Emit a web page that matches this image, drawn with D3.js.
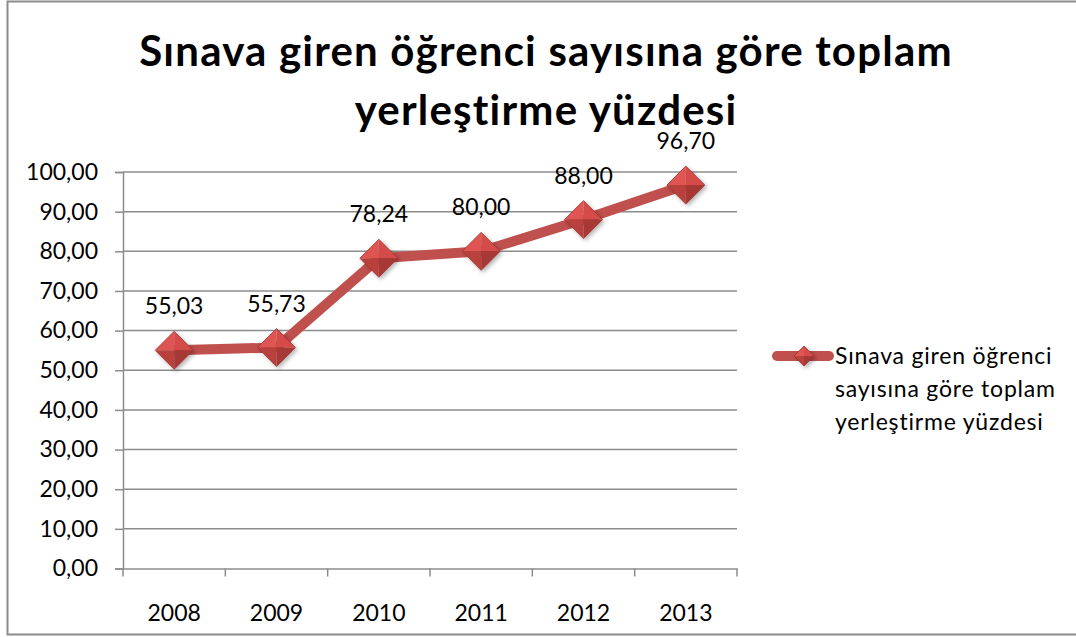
<!DOCTYPE html>
<html><head><meta charset="utf-8">
<script src="https://cdn.jsdelivr.net/npm/d3@7"></script>
<style>body{margin:0;background:#fff}svg{display:block}</style>
</head><body>
<svg id="c" width="1076" height="637"></svg>
<script>
const categories = ["2008","2009","2010","2011","2012","2013"];
const values = [55.03, 55.73, 78.24, 80.00, 88.00, 96.70];
const yTicks = [0,10,20,30,40,50,60,70,80,90,100];
const titleLines = ["Sınava giren öğrenci sayısına göre toplam","yerleştirme yüzdesi"];
const legendLines = ["Sınava giren öğrenci","sayısına göre toplam","yerleştirme yüzdesi"];

const svg = d3.select("#c");
const font = "Lato, 'Open Sans', sans-serif";
const fmt = v => d3.format(".2f")(v).replace(".", ",");

// outer border
svg.append("rect").attr("x",7.5).attr("y",1.5).attr("width",1090).attr("height",633)
  .attr("fill","#fff").attr("stroke","#8c8c8c").attr("stroke-width",2);

// title
svg.append("g").selectAll("text").data(titleLines).join("text")
  .attr("x",546).attr("y",(d,i)=>66+i*59).attr("text-anchor","middle")
  .attr("font-family",font).attr("font-weight","bold").attr("font-size",42)
  .attr("letter-spacing",1.2)
  .attr("fill","#000").text(d=>d);

const L=123, R=737, T=172, B=568.5;
const x = d3.scaleBand().domain(categories).range([L,R]);
const y = d3.scaleLinear().domain([0,100]).range([B,T]);

// gridlines
svg.append("g").selectAll("line").data(yTicks.filter(d=>d>0)).join("line")
  .attr("x1",L).attr("x2",R).attr("y1",d=>y(d)).attr("y2",d=>y(d))
  .attr("stroke","#8c8c8c").attr("stroke-width",1.5);

// y axis
const yAxis = svg.append("g").attr("transform",`translate(${L},0)`)
  .call(d3.axisLeft(y).tickValues(yTicks).tickFormat(fmt).tickSize(8).tickPadding(17));
yAxis.select(".domain").attr("stroke","#8c8c8c").attr("stroke-width",1.5);
yAxis.selectAll(".tick line").attr("stroke","#8c8c8c").attr("stroke-width",1.5);
yAxis.selectAll("text").attr("font-family",font).attr("font-size",23).attr("fill","#000");

// x axis
const xAxis = svg.append("g").attr("transform",`translate(0,${B})`)
  .call(d3.axisBottom(x).tickSize(0).tickPadding(36));
xAxis.select(".domain").attr("stroke","#8c8c8c").attr("stroke-width",1.5);
xAxis.selectAll("text").attr("font-family",font).attr("font-size",23).attr("fill","#000");
// category boundary ticks
const bounds = categories.map(c=>x(c)).concat([R]);
svg.append("g").selectAll("line").data(bounds).join("line")
  .attr("x1",d=>d).attr("x2",d=>d).attr("y1",B).attr("y2",B+8)
  .attr("stroke","#8c8c8c").attr("stroke-width",1.5);

// defs for markers
const defs = svg.append("defs");
const f = defs.append("filter").attr("id","sh").attr("x","-50%").attr("y","-50%").attr("width","200%").attr("height","200%");
f.append("feDropShadow").attr("dx",2).attr("dy",2).attr("stdDeviation",2).attr("flood-color","#000").attr("flood-opacity",0.3);

const cx = d => x(d) + x.bandwidth()/2;
const line = d3.line().x((d,i)=>cx(categories[i])).y(d=>y(d));
svg.append("path").datum(values).attr("d",line).attr("fill","none")
  .attr("stroke","#C0504D").attr("stroke-width",10).attr("stroke-linejoin","round");

function diamond(g, s){
  g.attr("filter","url(#sh)");
  g.append("path").attr("d",`M0,${-s}L${-s},0L0,0Z`).attr("fill","#df5553");
  g.append("path").attr("d",`M0,${-s}L${s},0L0,0Z`).attr("fill","#d44b49");
  g.append("path").attr("d",`M${-s},0L0,${s}L0,0Z`).attr("fill","#b83f3c");
  g.append("path").attr("d",`M${s},0L0,${s}L0,0Z`).attr("fill","#a83734");
  g.append("path").attr("d",`M0,${-s}L${s},0L0,${s}L${-s},0Z`).attr("fill","none").attr("stroke","#9b3230").attr("stroke-width",0.8);
}
const mk = svg.append("g").selectAll("g").data(values).join("g")
  .attr("transform",(d,i)=>`translate(${cx(categories[i])},${y(d)})`);
mk.each(function(){ diamond(d3.select(this),19); });

// data labels
svg.append("g").selectAll("text").data(values).join("text")
  .attr("x",(d,i)=>cx(categories[i])).attr("y",d=>y(d)-36)
  .attr("text-anchor","middle").attr("font-family",font).attr("font-size",23)
  .attr("fill","#000").text(fmt);

// legend
svg.append("line").attr("x1",777).attr("x2",829).attr("y1",356).attr("y2",356)
  .attr("stroke","#C0504D").attr("stroke-width",10).attr("stroke-linecap","round");
diamond(svg.append("g").attr("transform","translate(804,356)"),10);
svg.append("g").selectAll("text").data(legendLines).join("text")
  .attr("x",835).attr("y",(d,i)=>364+i*33).attr("font-family",font).attr("font-size",23)
  .attr("letter-spacing",0.8)
  .attr("fill","#000").text(d=>d);
</script>
</body></html>
